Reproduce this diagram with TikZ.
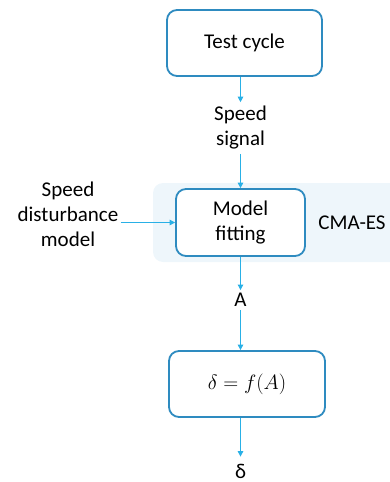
\documentclass[tikz,border=0pt]{standalone}
\usepackage{fontspec}
\setmainfont{Carlito}
\usetikzlibrary{arrows.meta}

\definecolor{boxblue}{HTML}{2E8BC0}
\definecolor{arrowblue}{HTML}{29B0E6}
\definecolor{bgblue}{HTML}{EEF6FB}

\def \boxLine {1.8pt}
\def \flowLine {1pt}

\begin{document}
\begin{tikzpicture}[x=1pt, y=-1pt,
    stepbox/.style={draw=boxblue, line width=\boxLine, rounded corners=10pt, fill=white},
    flow/.style={draw=arrowblue, line width=\flowLine, -{Triangle[length=5.5pt, width=5.5pt]}},
    txt/.style={align=center, inner xsep=2pt, inner ysep=6pt},
    font=\fontsize{21}{25}\selectfont]
         \useasboundingbox (0, 0) rectangle (390, 482);

         % Vùng nền CMA-ES
         \fill[bgblue, rounded corners=10pt] (153, 183) rectangle (405, 262);

         % Các khối chính
         \node[stepbox, minimum width=155, minimum height=66] (test) at (244.5, 43) {Test cycle};
         \node[stepbox, minimum width=129, minimum height=67, align=center] (fit) at (240.5, 222.5) {Model\\fitting};
         \node[stepbox, minimum width=156, minimum height=66] (func) at (247, 384) {$\delta = f(A)$};

         % Các nhãn
         \node[txt, inner ysep=4pt] (signal) at (240.5, 128) {Speed\\signal};
         \node[txt] (dist) at (68, 214) {Speed\\disturbance\\model};
         \node[txt] (cma) at (352, 223) {CMA-ES};
         \node[txt, inner ysep=3pt] (A) at (240.5, 300) {A};
         \node[txt, inner ysep=1pt] (delta) at (240.5, 471) {δ};

         % Các mũi tên
         \draw[flow] (test.south -| signal) -- (signal.north);
         \draw[flow] (signal.south) -- (fit.north -| signal);
         \draw[flow] (dist.east |- fit.west) -- (fit.west);
         \draw[flow] (fit.south -| A) -- (A.north);
         \draw[flow] (A.south) -- (func.north -| A);
         \draw[flow, shorten >=6pt] (func.south -| delta) -- (delta.north);
      \end{tikzpicture}
\end{document}
